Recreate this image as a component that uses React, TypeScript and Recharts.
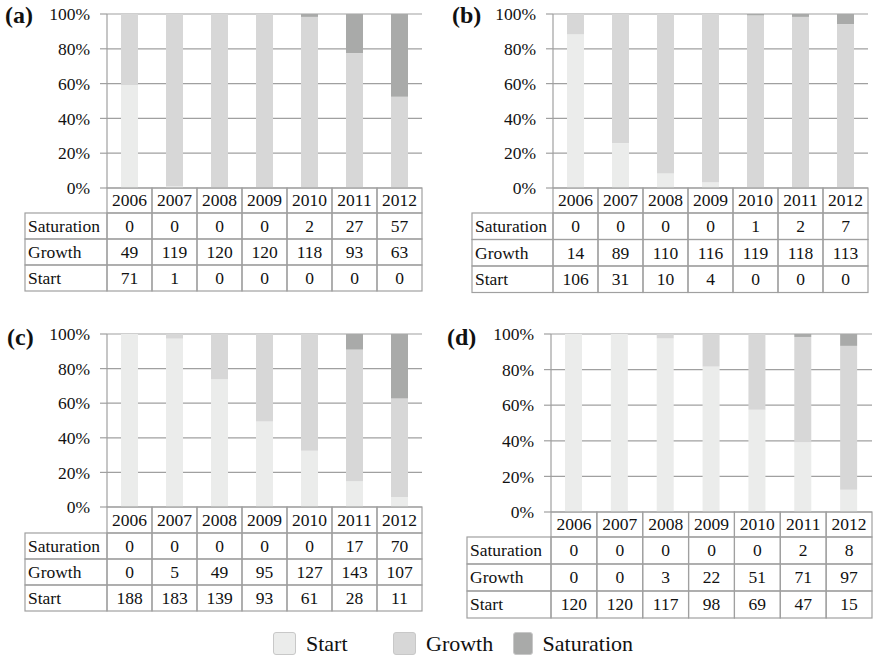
import React from "react";
import { BarChart, Bar, XAxis, YAxis, CartesianGrid } from "recharts";

const years = ["2006", "2007", "2008", "2009", "2010", "2011", "2012"];
const seriesNames = ["Start", "Growth", "Saturation"];
const seriesColors = ["#ebeceb", "#d7d7d7", "#a9aaa9"];
const percentTicks = [0, 0.2, 0.4, 0.6, 0.8, 1];

const aStart = [71, 1, 0, 0, 0, 0, 0];
const aGrowth = [49, 119, 120, 120, 118, 93, 63];
const aSaturation = [0, 0, 0, 0, 2, 27, 57];

const bStart = [106, 31, 10, 4, 0, 0, 0];
const bGrowth = [14, 89, 110, 116, 119, 118, 113];
const bSaturation = [0, 0, 0, 0, 1, 2, 7];

const cStart = [188, 183, 139, 93, 61, 28, 11];
const cGrowth = [0, 5, 49, 95, 127, 143, 107];
const cSaturation = [0, 0, 0, 0, 0, 17, 70];

const dStart = [120, 120, 117, 98, 69, 47, 15];
const dGrowth = [0, 0, 3, 22, 51, 71, 97];
const dSaturation = [0, 0, 0, 0, 0, 2, 8];

const FONT = "Liberation Serif";
const LINE = "#a0a0a0";
const TEXT = "#111";
const FS = 17.5;

type Cfg = {
  label: string;
  left: number;
  top: number;
  width: number;
  height: number;
  plotLeft: number;
  plotRight: number;
  plotTop: number;
  plotBottom: number;
  tableLeft: number;
  headerH: number;
  rowH: number;
  labelX: number;
  labelY: number;
};

const panels: { cfg: Cfg; start: number[]; growth: number[]; saturation: number[] }[] = [
  {
    cfg: { label: "(a)", left: 0, top: 0, width: 440, height: 300, plotLeft: 107, plotRight: 422, plotTop: 14, plotBottom: 188, tableLeft: 25, headerH: 25, rowH: 26, labelX: 5, labelY: 23 },
    start: aStart, growth: aGrowth, saturation: aSaturation,
  },
  {
    cfg: { label: "(b)", left: 440, top: 0, width: 433, height: 300, plotLeft: 113, plotRight: 428, plotTop: 14, plotBottom: 188, tableLeft: 32, headerH: 25, rowH: 26.5, labelX: 12, labelY: 23 },
    start: bStart, growth: bGrowth, saturation: bSaturation,
  },
  {
    cfg: { label: "(c)", left: 0, top: 300, width: 440, height: 320, plotLeft: 107, plotRight: 422, plotTop: 34, plotBottom: 207, tableLeft: 25, headerH: 26, rowH: 26, labelX: 7, labelY: 45 },
    start: cStart, growth: cGrowth, saturation: cSaturation,
  },
  {
    cfg: { label: "(d)", left: 440, top: 300, width: 433, height: 320, plotLeft: 111, plotRight: 432, plotTop: 34, plotBottom: 212, tableLeft: 27, headerH: 25, rowH: 27, labelX: 7, labelY: 45 },
    start: dStart, growth: dGrowth, saturation: dSaturation,
  },
];

// table under the bars, one column per x tick
function TableTick(props: any) {
  const { x, payload, cfg, rows } = props;
  const i = payload.index;
  const cw = (cfg.plotRight - cfg.plotLeft) / years.length;
  const x0 = x - cw / 2;
  const y0 = cfg.plotBottom;
  const ty = (top: number, h: number) => top + h / 2 + FS * 0.34;
  return (
    <g style={{ fontFamily: FONT, fontSize: FS }} fill={TEXT}>
      <rect x={x0} y={y0} width={cw} height={cfg.headerH} fill="none" stroke={LINE} strokeWidth={1.2} />
      <text x={x} y={ty(y0, cfg.headerH)} textAnchor="middle">{payload.value}</text>
      {rows.map((r: any, k: number) => {
        const ry = y0 + cfg.headerH + k * cfg.rowH;
        return (
          <g key={r.name}>
            <rect x={x0} y={ry} width={cw} height={cfg.rowH} fill="none" stroke={LINE} strokeWidth={1.2} />
            <text x={x} y={ty(ry, cfg.rowH)} textAnchor="middle">{r.values[i]}</text>
            {i === 0 && (
              <>
                <rect x={cfg.tableLeft} y={ry} width={cfg.plotLeft - cfg.tableLeft} height={cfg.rowH} fill="none" stroke={LINE} strokeWidth={1.2} />
                <text x={cfg.tableLeft + 3} y={ty(ry, cfg.rowH)}>{r.name}</text>
              </>
            )}
          </g>
        );
      })}
    </g>
  );
}

function Panel({ cfg, start, growth, saturation }: { cfg: Cfg; start: number[]; growth: number[]; saturation: number[] }) {
  const data = years.map((y, i) => ({ year: y, start: start[i], growth: growth[i], saturation: saturation[i] }));
  const rows = [
    { name: "Saturation", values: saturation },
    { name: "Growth", values: growth },
    { name: "Start", values: start },
  ];
  return (
    <div style={{ position: "absolute", left: cfg.left, top: cfg.top, width: cfg.width, height: cfg.height, fontFamily: FONT }}>
      <BarChart
        width={cfg.width}
        height={cfg.height}
        data={data}
        stackOffset="expand"
        style={{ fontFamily: FONT }}
        margin={{ top: cfg.plotTop, right: cfg.width - cfg.plotRight, left: 0, bottom: 0 }}
      >
        <CartesianGrid vertical={false} stroke={LINE} strokeWidth={1.2} />
        <XAxis
          dataKey="year"
          axisLine={false}
          tickLine={false}
          interval={0}
          height={cfg.height - cfg.plotBottom}
          tick={(p: any) => <TableTick {...p} cfg={cfg} rows={rows} />}
        />
        <YAxis
          width={cfg.plotLeft}
          domain={[0, 1]}
          ticks={percentTicks}
          tickFormatter={(v: number) => `${Math.round(v * 100)}%`}
          axisLine={{ stroke: LINE, strokeWidth: 1.2 }}
          tickLine={{ stroke: LINE, strokeWidth: 1.2 }}
          tickSize={7}
          tickMargin={10}
          tick={{ fill: TEXT, fontSize: FS, style: { fontFamily: FONT } }}
        />
        <Bar dataKey="start" stackId="s" fill={seriesColors[0]} barSize={17} isAnimationActive={false} />
        <Bar dataKey="growth" stackId="s" fill={seriesColors[1]} barSize={17} isAnimationActive={false} />
        <Bar dataKey="saturation" stackId="s" fill={seriesColors[2]} barSize={17} isAnimationActive={false} />
      </BarChart>
      <div style={{ position: "absolute", left: cfg.labelX, top: cfg.labelY - 20, fontWeight: "bold", fontSize: 24, lineHeight: "24px", color: "#111" }}>
        {cfg.label}
      </div>
    </div>
  );
}

export default function App() {
  return (
    <div style={{ position: "absolute", left: 0, top: 0, width: 873, height: 660, background: "#fff", overflow: "hidden", fontFamily: FONT }}>
      {panels.map((p) => (
        <Panel key={p.cfg.label} cfg={p.cfg} start={p.start} growth={p.growth} saturation={p.saturation} />
      ))}
      <div style={{ position: "absolute", left: 273, top: 632, display: "flex", fontSize: 22, color: TEXT }}>
        {seriesNames.map((name, i) => (
          <div key={name} style={{ width: 120, display: "flex", alignItems: "center", height: 23 }}>
            <div style={{ width: 21, height: 21, borderRadius: 3, background: seriesColors[i], border: "1px solid #c8c8c8", marginRight: 10 }} />
            <span>{name}</span>
          </div>
        ))}
      </div>
    </div>
  );
}
